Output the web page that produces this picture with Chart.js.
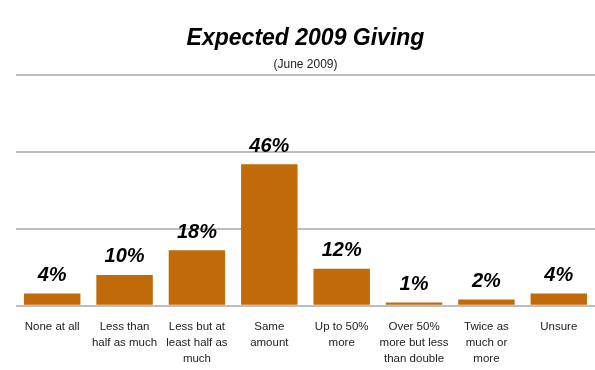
<!DOCTYPE html>
<html>
<head>
<meta charset="utf-8">
<script src="https://cdn.jsdelivr.net/npm/chart.js@4"></script>
<style>
  html, body { margin: 0; padding: 0; background: #fff; }
  #wrap { width: 595px; height: 370px; }
</style>
</head>
<body>
<div id="wrap"><canvas id="giving"></canvas></div>
<script>
const categories = [
    ['None at all'],
    ['Less than', 'half as much'],
    ['Less but at', 'least half as', 'much'],
    ['Same', 'amount'],
    ['Up to 50%', 'more'],
    ['Over 50%', 'more but less', 'than double'],
    ['Twice as', 'much or', 'more'],
    ['Unsure']
];
const percents = [4, 10, 18, 46, 12, 1, 2, 4];
const yTicks = [0, 25, 50, 75];

const FONT = "'Liberation Sans', Arial, sans-serif";

// Bold italic percentage above every bar
const valueLabels = {
    id: 'valueLabels',
    afterDatasetsDraw(chart) {
        const ctx = chart.ctx;
        const meta = chart.getDatasetMeta(0);
        ctx.save();
        ctx.font = `italic bold 20px ${FONT}`;
        ctx.fillStyle = '#000';
        ctx.textAlign = 'center';
        ctx.textBaseline = 'middle';
        meta.data.forEach((bar, i) => {
            ctx.fillText(percents[i] + '%', bar.x, bar.y - 18);
        });
        ctx.restore();
    }
};

new Chart(document.getElementById('giving'), {
    type: 'bar',
    data: {
        labels: categories,
        datasets: [{
            data: percents,
            backgroundColor: '#C06A0A',
            borderWidth: 0,
            categoryPercentage: 1,
            barPercentage: 0.78
        }]
    },
    options: {
        responsive: true,
        maintainAspectRatio: false,
        animation: false,
        layout: { padding: { left: 16, right: 0, top: 0, bottom: -2 } },
        plugins: {
            legend: { display: false },
            tooltip: { enabled: false },
            title: {
                display: true,
                text: 'Expected 2009 Giving',
                color: '#000',
                font: { family: FONT, size: 23, weight: 'bold', style: 'italic' },
                padding: { top: 25, bottom: 5 }
            },
            subtitle: {
                display: true,
                text: '(June 2009)',
                color: '#222',
                font: { family: FONT, size: 12 },
                padding: { bottom: 3 }
            }
        },
        scales: {
            x: {
                grid: { display: false },
                border: { display: false },
                ticks: {
                    color: '#222',
                    font: { family: FONT, size: 11.5, lineHeight: 1.4 },
                    maxRotation: 0,
                    autoSkip: false,
                    padding: 5
                }
            },
            y: {
                min: 0,
                max: 75,
                afterBuildTicks(axis) {
                    axis.ticks = yTicks.map(v => ({ value: v }));
                },
                ticks: { display: false },
                border: { display: false },
                grid: { color: '#BDBDBD', lineWidth: 2, drawTicks: false }
            }
        }
    },
    plugins: [valueLabels]
});
</script>
</body>
</html>
